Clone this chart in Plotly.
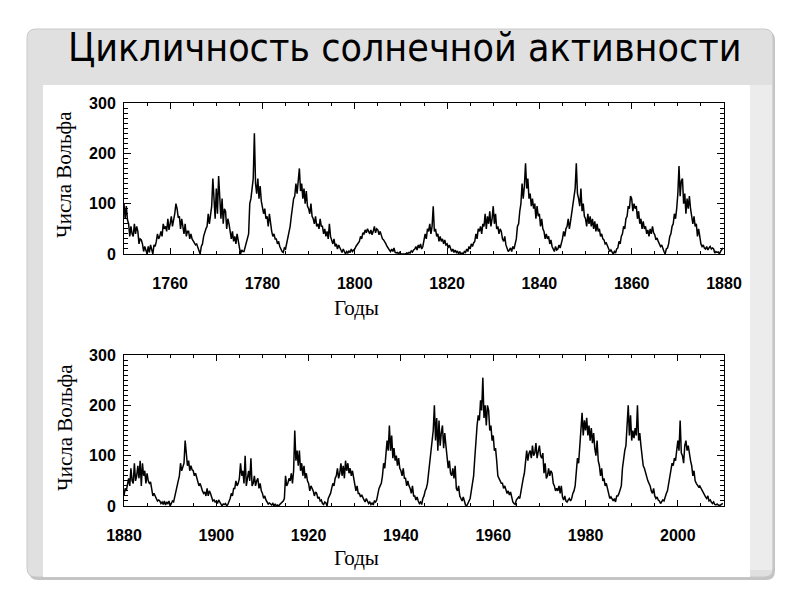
import plotly.graph_objects as go

# ---------------- data (quarterly Wolf numbers) ----------------
slide_title = "Цикличность солнечной активности"
y_title = "Числа Вольфа"
x_title = "Годы"

top_start_year = 1749
top_range = [1750, 1880]
top_ticks = [1760, 1780, 1800, 1820, 1840, 1860, 1880]
wolf_top = [
    70, 95, 60, 100,   # 1749
    100, 70, 95, 68,   # 1750
    60, 35, 55, 40,
    35, 60, 40, 55,
    45, 20, 30, 28,
    20, 5, 15, 8,
    0, 15, 3, 18,      # 1755
    5, 0, 18, 15,
    25, 40, 30, 35,
    45, 35, 60, 50,
    55, 45, 70, 48,
    60, 75, 55, 65,    # 1760
    80, 100, 90, 72,
    75, 50, 70, 55,
    40, 60, 35, 45,
    45, 30, 40, 30,
    25, 20, 18, 20,    # 1765
    12, 5, 0, 15,
    20, 35, 45, 50,
    55, 80, 60, 85,
    95, 150, 110, 70,
    130, 80, 155, 100, # 1770
    70, 110, 60, 90,
    85, 50, 70, 60,
    40, 30, 45, 25,
    35, 20, 40, 28,
    10, 0, 8, 5,       # 1775
    5, 15, 25, 35,
    40, 100, 110, 130,
    150, 240, 140, 120,
    150, 110, 135, 105,
    95, 80, 90, 70,    # 1780
    75, 55, 80, 60,
    45, 35, 40, 30,
    30, 20, 25, 15,
    8, 5, 3, 12,
    10, 20, 30, 40,    # 1785
    55, 75, 90, 110,
    115, 140, 120, 150,
    170, 125, 140, 110,
    130, 100, 125, 95,
    90, 80, 100, 75,   # 1790
    70, 60, 75, 55,
    60, 50, 70, 55,
    55, 40, 50, 35,
    45, 30, 60, 35,
    25, 20, 30, 15,    # 1795
    20, 10, 18, 12,
    8, 3, 10, 4,
    0, 5, 2, 6,
    3, 10, 5, 8,
    10, 15, 18, 20,    # 1800
    25, 35, 30, 42,
    40, 48, 42, 50,
    45, 40, 48, 38,
    45, 55, 42, 50,
    48, 38, 45, 35,    # 1805
    30, 28, 25, 20,
    15, 10, 8, 5,
    10, 5, 12, 3,
    2, 3, 0, 4,
    0, 0, 0, 0,        # 1810
    0, 2, 1, 3,
    2, 6, 4, 8,
    10, 15, 8, 18,
    12, 20, 10, 15,
    25, 40, 30, 50,    # 1815
    45, 60, 40, 55,
    95, 45, 50, 35,
    40, 25, 35, 25,
    30, 20, 28, 18,
    20, 12, 18, 10,    # 1820
    5, 10, 3, 8,
    3, 6, 0, 5,
    0, 2, 0, 5,
    3, 10, 5, 15,
    10, 20, 15, 22,    # 1825
    25, 40, 30, 50,
    45, 55, 40, 60,
    55, 80, 50, 75,
    60, 85, 55, 70,
    95, 60, 80, 50,    # 1830
    55, 40, 50, 45,
    30, 25, 35, 18,
    10, 5, 8, 12,
    5, 15, 10, 22,
    30, 55, 60, 85,    # 1835
    100, 140, 110, 135,
    180, 130, 150, 110,
    120, 95, 110, 90,
    100, 70, 95, 75,
    80, 55, 70, 50,    # 1840
    45, 30, 40, 30,
    35, 20, 28, 15,
    10, 5, 15, 8,
    10, 18, 12, 20,
    30, 45, 35, 50,    # 1845
    55, 70, 50, 65,
    80, 95, 110, 130,
    180, 120, 110, 95,
    130, 85, 100, 75,
    70, 55, 80, 60,    # 1850
    75, 55, 70, 50,
    65, 45, 60, 45,
    50, 35, 40, 30,
    28, 20, 22, 15,
    10, 5, 8, 3,       # 1855
    0, 5, 2, 10,
    12, 25, 20, 35,
    40, 55, 50, 70,
    75, 95, 90, 115,
    110, 85, 100, 90,  # 1860
    95, 70, 85, 60,
    70, 50, 65, 50,
    55, 40, 48, 35,
    50, 40, 55, 42,
    38, 28, 32, 25,    # 1865
    20, 15, 18, 10,
    5, 0, 10, 12,
    20, 35, 40, 55,
    60, 80, 70, 90,
    120, 175, 115, 145,  # 1870
    150, 100, 120, 80,
    110, 90, 115, 90,
    70, 60, 75, 55,
    60, 35, 50, 35,
    20, 15, 18, 12,    # 1875
    10, 15, 8, 12,
    15, 10, 12, 10,
    2, 5, 3, 4,
    0, 5, 8, 12,       # 1879
]

bottom_start_year = 1880
bottom_range = [1880, 2010]
bottom_ticks = [1880, 1900, 1920, 1940, 1960, 1980, 2000]
wolf_bottom = [
    20, 35, 30, 45,    # 1880
    55, 40, 75, 50,
    45, 85, 50, 60,
    80, 55, 90, 40,
    85, 60, 70, 45,
    65, 50, 45, 48,    # 1885
    35, 20, 25, 18,
    15, 10, 12, 10,
    5, 8, 3, 10,
    2, 8, 5, 10,
    0, 5, 10, 8,       # 1890
    20, 30, 40, 50,
    60, 85, 70, 80,
    85, 130, 95, 80,
    90, 70, 80, 72,
    70, 60, 65, 55,    # 1895
    50, 40, 45, 35,
    30, 25, 28, 20,
    35, 20, 30, 25,
    15, 10, 12, 8,
    10, 5, 12, 8,      # 1900
    2, 0, 4, 3,
    5, 0, 3, 8,
    15, 25, 20, 35,
    35, 50, 40, 45,
    55, 85, 60, 70,    # 1905
    45, 100, 40, 55,
    70, 50, 95, 40,
    45, 60, 40, 50,
    55, 35, 45, 30,
    25, 15, 20, 12,    # 1910
    8, 4, 6, 3,
    2, 5, 0, 4,
    0, 2, 0, 3,
    5, 8, 10, 15,
    60, 40, 45, 55,    # 1915
    50, 65, 45, 70,
    150, 90, 110, 80,
    110, 70, 85, 60,
    80, 55, 65, 50,
    45, 30, 40, 35,    # 1920
    30, 20, 28, 25,
    15, 18, 10, 12,
    5, 3, 8, 6,
    0, 15, 20, 25,
    35, 45, 40, 55,    # 1925
    60, 75, 55, 65,
    85, 60, 80, 55,
    90, 70, 85, 65,
    75, 60, 70, 55,
    45, 30, 40, 25,    # 1930
    25, 18, 22, 15,
    12, 8, 15, 10,
    5, 8, 3, 6,
    2, 10, 8, 12,
    25, 35, 40, 45,    # 1935
    60, 85, 75, 100,
    130, 110, 160, 110,
    140, 95, 115, 90,
    100, 80, 95, 75,
    70, 60, 75, 55,    # 1940
    55, 40, 50, 40,
    35, 25, 40, 20,
    20, 12, 18, 10,
    5, 8, 3, 15,
    20, 30, 35, 45,    # 1945
    65, 90, 100, 120,
    150, 200, 130, 175,
    110, 170, 120, 145,
    160, 115, 145, 120,
    100, 75, 90, 65,   # 1950
    60, 75, 55, 80,
    35, 30, 40, 20,
    15, 10, 18, 8,
    2, 0, 5, 8,
    15, 30, 45, 60,    # 1955
    95, 140, 160, 180,
    170, 210, 190, 255,
    175, 200, 160, 200,
    190, 150, 160, 130,
    140, 110, 115, 90, # 1960
    60, 55, 50, 45,
    45, 35, 40, 30,
    25, 30, 22, 28,
    15, 8, 5, 3,
    12, 15, 18, 15,    # 1965
    30, 40, 55, 65,
    85, 110, 90, 105,
    110, 95, 120, 100,
    105, 125, 95, 110,
    120, 100, 95, 105, # 1970
    65, 85, 55, 60,
    75, 60, 70, 65,
    45, 40, 30, 35,
    30, 40, 25, 40,
    18, 12, 20, 10,    # 1975
    8, 12, 15, 10,
    15, 25, 30, 40,
    70, 95, 85, 120,
    160, 185, 140, 170,
    150, 175, 140, 160,  # 1980
    130, 155, 125, 145,
    115, 100, 130, 90,
    80, 60, 75, 50,
    55, 40, 45, 35,
    20, 15, 18, 12,    # 1985
    10, 15, 8, 20,
    20, 25, 35, 40,
    75, 95, 110, 120,
    165, 200, 140, 180,
    130, 150, 135, 155,  # 1990
    140, 200, 130, 145,
    120, 95, 80, 75,
    65, 55, 50, 45,
    40, 30, 25, 35,
    20, 15, 18, 12,    # 1995
    10, 5, 8, 12,
    10, 20, 25, 30,
    45, 60, 70, 85,
    80, 95, 90, 110,
    130, 110, 170, 105,  # 2000
    100, 85, 120, 130,
    110, 120, 100, 90,
    80, 60, 70, 50,
    45, 40, 38, 40,
    35, 30, 25, 20,    # 2005
    18, 15, 20, 10,
    12, 8, 5, 8,
    3, 2, 4, 2,
    1, 2, 3, 5,        # 2009
]
y_ticks = [0, 100, 200, 300]
y_range = [0, 300]
samples_per_year = 4

# ---------------- figure ----------------
W, H = 800, 600


def px(x):
    return x / W


def py(y):
    return 1 - y / H


x_top = [top_start_year + i / samples_per_year for i in range(len(wolf_top))]
x_bottom = [bottom_start_year + i / samples_per_year for i in range(len(wolf_bottom))]

fig = go.Figure()
fig.add_trace(go.Scatter(x=x_top, y=wolf_top, mode="lines",
                         line=dict(color="#000000", width=1.5),
                         xaxis="x", yaxis="y", showlegend=False, hoverinfo="skip"))
fig.add_trace(go.Scatter(x=x_bottom, y=wolf_bottom, mode="lines",
                         line=dict(color="#000000", width=1.5),
                         xaxis="x2", yaxis="y2", showlegend=False, hoverinfo="skip"))

tick_font = dict(family="Liberation Sans, Arial, sans-serif", size=16,
                 color="#000000", weight="bold")


def xaxis_cfg(rng, ticks, anchor, domain):
    return dict(range=rng, tickvals=ticks, ticktext=[str(t) for t in ticks],
                domain=domain, anchor=anchor, showgrid=False, zeroline=False,
                showline=True, linecolor="#000000", linewidth=1, mirror="allticks",
                ticks="inside", ticklen=6, tickcolor="#000000", automargin=False,
                minor=dict(dtick=5, tick0=1750, ticks="inside", ticklen=3,
                           tickcolor="#000000", showgrid=False),
                tickfont=tick_font, ticklabelstandoff=15)


def yaxis_cfg(anchor, domain):
    return dict(range=y_range, tickvals=y_ticks, ticktext=[str(t) for t in y_ticks],
                domain=domain, anchor=anchor, showgrid=False, zeroline=False,
                showline=True, linecolor="#000000", linewidth=1, mirror="allticks",
                ticks="inside", ticklen=7, tickcolor="#000000", automargin=False,
                minor=dict(dtick=10, ticks="inside", ticklen=4,
                           tickcolor="#000000", showgrid=False),
                tickfont=tick_font, ticklabelstandoff=4)


xdom = [px(124), px(724)]
top_dom = [py(254), py(103)]
bot_dom = [py(506), py(355)]

fig.update_layout(
    width=W, height=H, autosize=False,
    margin=dict(l=0, r=0, t=0, b=0, pad=0, autoexpand=False),
    paper_bgcolor="#ffffff", plot_bgcolor="rgba(0,0,0,0)",
    xaxis=xaxis_cfg(top_range, top_ticks, "y", xdom),
    yaxis=yaxis_cfg("x", top_dom),
    xaxis2=xaxis_cfg(bottom_range, bottom_ticks, "y2", xdom),
    yaxis2=yaxis_cfg("x2", bot_dom),
)


def rounded_rect(x0, y0, x1, y1, r):
    pts = [
        f"M {px(x0 + r)} {py(y0)}",
        f"L {px(x1 - r)} {py(y0)}",
        f"Q {px(x1)} {py(y0)} {px(x1)} {py(y0 + r)}",
        f"L {px(x1)} {py(y1 - r)}",
        f"Q {px(x1)} {py(y1)} {px(x1 - r)} {py(y1)}",
        f"L {px(x0 + r)} {py(y1)}",
        f"Q {px(x0)} {py(y1)} {px(x0)} {py(y1 - r)}",
        f"L {px(x0)} {py(y0 + r)}",
        f"Q {px(x0)} {py(y0)} {px(x0 + r)} {py(y0)}",
        "Z",
    ]
    return " ".join(pts)


shapes = [
    dict(type="path", path=rounded_rect(29, 31, 775, 580, 9), xref="paper", yref="paper",
         fillcolor="#c4c4c4", line=dict(width=0), layer="below"),
    dict(type="path", path=rounded_rect(27, 29, 773, 577, 9), xref="paper", yref="paper",
         fillcolor="#e0e0e0", line=dict(color="#c8c8c8", width=1), layer="below"),
    dict(type="rect", x0=px(750), x1=px(772), y0=py(570), y1=py(85), xref="paper", yref="paper",
         fillcolor="#ececec", line=dict(width=0), layer="below"),
    dict(type="rect", x0=px(43), x1=px(750), y0=py(577), y1=py(85), xref="paper", yref="paper",
         fillcolor="#ffffff", line=dict(width=0), layer="below"),
]
fig.update_layout(shapes=shapes)

serif = "Liberation Serif, Times New Roman, DejaVu Serif, serif"
annotations = [
    dict(text=slide_title, x=px(405), y=py(47), xref="paper", yref="paper",
         showarrow=False, xanchor="center", yanchor="middle",
         font=dict(family="Liberation Sans Narrow, Arial Narrow, DejaVu Sans Condensed, sans-serif",
                   size=39, color="#000000")),
    dict(text=y_title, x=px(64), y=py(175), xref="paper", yref="paper", textangle=-90,
         showarrow=False, xanchor="center", yanchor="middle",
         font=dict(family=serif, size=21, color="#000000")),
    dict(text=y_title, x=px(65), y=py(428), xref="paper", yref="paper", textangle=-90,
         showarrow=False, xanchor="center", yanchor="middle",
         font=dict(family=serif, size=21, color="#000000")),
    dict(text=x_title, x=px(356), y=py(308), xref="paper", yref="paper",
         showarrow=False, xanchor="center", yanchor="middle",
         font=dict(family=serif, size=21, color="#000000")),
    dict(text=x_title, x=px(356), y=py(558), xref="paper", yref="paper",
         showarrow=False, xanchor="center", yanchor="middle",
         font=dict(family=serif, size=21, color="#000000")),
]
fig.update_layout(annotations=annotations)

fig.write_html("out.html", config={"displayModeBar": False},
               post_script="document.body.style.margin='0';")
